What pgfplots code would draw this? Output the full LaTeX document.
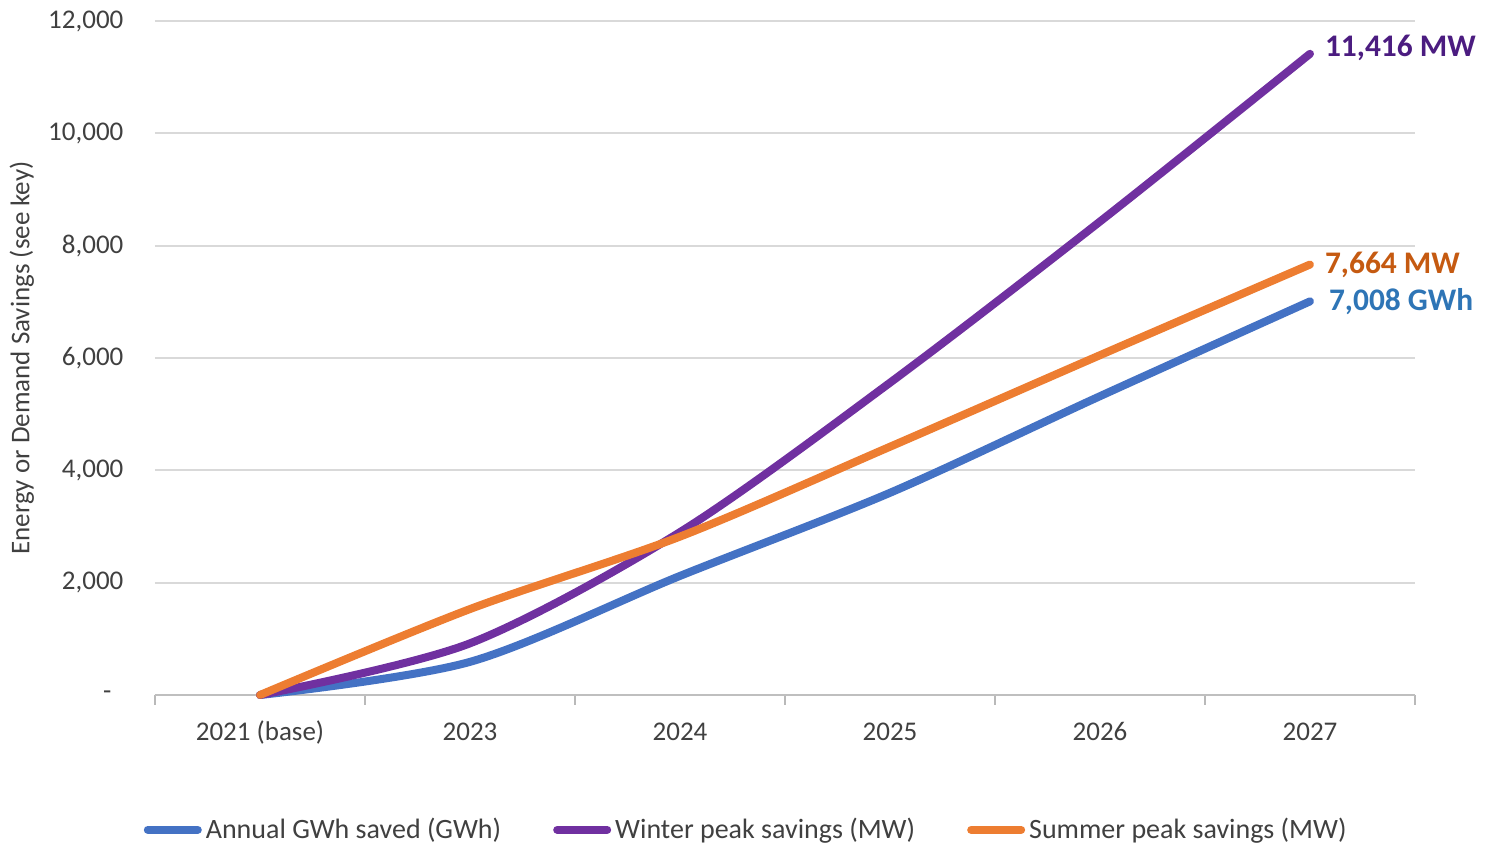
\documentclass[border=0pt]{standalone}
\usepackage{fontspec}
\setmainfont{Carlito}
\usepackage{pgfplots}
\pgfplotsset{compat=1.18}
\definecolor{cblue}{HTML}{4472C4}
\definecolor{cpurple}{HTML}{7030A0}
\definecolor{corange}{HTML}{ED7D31}
\definecolor{lblue}{HTML}{2E75B6}
\definecolor{lpurple}{HTML}{4B1C80}
\definecolor{lorange}{HTML}{C55A11}
\definecolor{tickc}{HTML}{404040}
\begin{document}
\begin{tikzpicture}
\path[use as bounding box] (-77.5pt,-74.5pt) rectangle (668pt,347.5pt);
\begin{axis}[
  scale only axis, width=630pt, height=337pt,
  xmin=-0.5, xmax=5.5, ymin=0, ymax=12000,
  scaled y ticks=false,
  xtick={0,1,2,3,4,5},
  xticklabels={2021 (base),2023,2024,2025,2026,2027},
  minor xtick={-0.5,0.5,1.5,2.5,3.5,4.5,5.5},
  xtick pos=bottom, ytick pos=left,
  major x tick style={draw=none},
  minor x tick style={draw=gray!55, line width=0.8pt},
  minor tick length=5pt,
  tick align=outside,
  ytick={0,2000,4000,6000,8000,10000,12000},
  yticklabels={{-\rule{6pt}{0pt}},{2,000},{4,000},{6,000},{8,000},{10,000},{12,000}},
  ytick style={draw=none},
  ymajorgrids,
  grid style={draw=gray!30, line width=1pt},
  axis line style={draw=none},
  ticklabel style={font=\fontsize{13.5}{16}\selectfont, text=tickc},
  yticklabel style={anchor=east, xshift=-8pt},
  xticklabel style={anchor=north, yshift=-5.5pt, text height=9.5pt, text depth=3pt},
  ylabel={Energy or Demand Savings (see key)},
  every axis y label/.style={at={(axis description cs:-0.1056,0.5)}, rotate=90, anchor=center,
    font=\fontsize{13.5}{16}\selectfont, text=tickc},
  clip=false,
  legend columns=3,
  legend style={draw=none, fill=none, at={(0.47,-0.2)}, anchor=center,
    font=\fontsize{14}{17}\selectfont, text=tickc,
    /tikz/every even column/.append style={column sep=24pt},
    /tikz/every odd column/.append style={inner xsep=0pt},
    inner sep=0pt},
  legend image code/.code={\draw[#1, line width=4pt, line cap=round] (0pt,0pt) -- (25pt,0pt);},
]
\draw[gray!50, line width=1pt] (axis cs:-0.5,0) -- (axis cs:5.5,0);
\addplot[cblue, line width=4pt, smooth, line cap=round] coordinates {(0,0) (1,590) (2,2120) (3,3600) (4,5320) (5,7008)};
\addlegendentry{Annual GWh saved (GWh)}
\addplot[cpurple, line width=4pt, smooth, line cap=round] coordinates {(0,0) (1,920) (2,2900) (3,5560) (4,8430) (5,11416)};
\addlegendentry{Winter peak savings (MW)}
\addplot[corange, line width=4pt, smooth, line cap=round] coordinates {(0,0) (1,1530) (2,2820) (3,4420) (4,6050) (5,7664)};
\addlegendentry{Summer peak savings (MW)}
\node[anchor=west, xshift=4pt, yshift=3pt, text=lpurple, font=\fontsize{15.7}{18}\selectfont\bfseries] at (axis cs:5,11416) {11,416 MW};
\node[anchor=west, xshift=4pt, text=lorange, font=\fontsize{15.7}{18}\selectfont\bfseries] at (axis cs:5,7664) {7,664 MW};
\node[anchor=west, xshift=6pt, text=lblue, font=\fontsize{15.7}{18}\selectfont\bfseries] at (axis cs:5,7008) {7,008 GWh};
\end{axis}
\end{tikzpicture}
\end{document}
